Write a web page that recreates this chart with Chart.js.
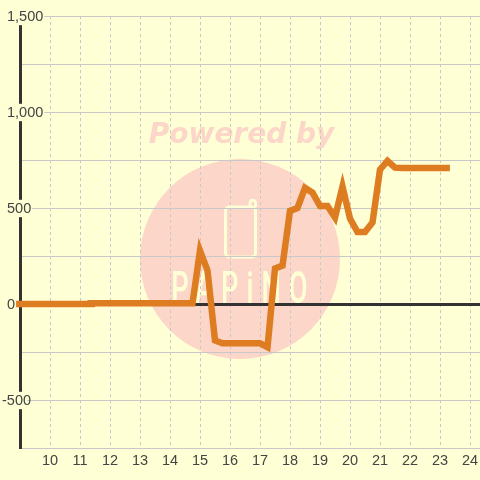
<!DOCTYPE html>
<html><head><meta charset="utf-8">
<style>html,body{margin:0;padding:0;background:#ffffd5}canvas{display:block}</style>
<script src="https://cdn.jsdelivr.net/npm/chart.js@4"></script></head>
<body><div style="width:480px;height:480px"><canvas id="c" width="480" height="480"></canvas></div>
<script>
const morningHours=[8.8,9,9.5,10,10.5,11,11.5];
const morningValues=[0,0,0,0,0,0,0];
const hours=[11.25,11.5,12,12.5,13,13.5,14,14.5,14.75,15,15.25,15.5,15.75,16,16.25,16.5,16.75,17,17.25,17.5,17.75,18,18.25,18.5,18.75,19,19.25,19.5,19.75,20,20.25,20.5,20.75,21,21.25,21.5,21.75,22,22.25,22.5,22.75,23,23.33];
const values=[4,4,4,4,4,4,4,4,4,278,175,-190,-205,-205,-205,-205,-205,-205,-225,185,200,485,500,605,580,510,510,450,612,445,375,375,425,700,745,710,708,708,708,708,708,708,708];
const xTicks=[10,11,12,13,14,15,16,17,18,19,20,21,22,23,24];
const yGrid=[-750,-500,-250,0,250,500,750,1000,1250,1500];
const yLabels=[-500,0,500,1000,1500];
const bg='#ffffd5',ink='#333333',tickInk='#444444',gridCol='#c8c8c8',orange='#de7c22',pink='#fcd6c8';
const watermark={id:'wm',beforeDraw(ch){
 const c=ch.ctx;c.save();
 c.fillStyle=bg;c.fillRect(0,0,480,480);
 c.fillStyle=pink;c.beginPath();c.arc(240,259,100,0,Math.PI*2);c.fill();
 c.font='italic bold 28px "DejaVu Sans"';c.textAlign='center';c.textBaseline='middle';
 c.fillText('Powered by',241.5,136);
 c.strokeStyle=bg;c.fillStyle=bg;c.lineWidth=3;
 c.beginPath();c.roundRect(225.5,207,30,50,4);c.stroke();
 c.beginPath();c.moveTo(250,207);c.lineTo(250,203);c.arc(252.75,203,2.75,Math.PI,0);c.lineTo(255.5,207);c.stroke();
 c.translate(243.5,292);c.scale(0.62,1);
 c.font='500 44px Roboto';c.letterSpacing='13px';c.textAlign='center';c.textBaseline='middle';
 c.fillText('PAPiNO',0,0);
 c.restore();
 const s=ch.scales.y;
 s.getLabelItems(ch.chartArea).forEach(it=>{
  it.options.translation[1]+=0.5;
  if(String(it.label).startsWith('-')){it.options.translation[0]-=5;if(it.options.backdrop)it.options.backdrop.left-=5;}
 });
}};
function noPad(s){s.paddingLeft=0;s.paddingRight=0;s.paddingTop=0;s.paddingBottom=0;}
new Chart(document.getElementById('c'),{
 type:'line',
 data:{datasets:[
  {data:morningHours.map((h,i)=>({x:h,y:morningValues[i]})),borderColor:orange,borderWidth:6.5,pointRadius:0,tension:0,borderCapStyle:'butt',borderJoinStyle:'miter',clip:false},
  {data:hours.map((h,i)=>({x:h,y:values[i]})),borderColor:orange,borderWidth:6.5,pointRadius:0,tension:0,borderCapStyle:'butt',borderJoinStyle:'miter',clip:false}
 ]},
 options:{responsive:false,animation:false,
  layout:{padding:{left:20,right:0,top:16,bottom:0}},
  plugins:{legend:{display:false},tooltip:{enabled:false}},
  scales:{
   x:{type:'linear',min:9,max:24.3333,afterBuildTicks(s){s.ticks=xTicks.map(v=>({value:v}))},afterFit(s){s.height=32;noPad(s)},
     grid:{color:gridCol,lineWidth:1,drawTicks:false},border:{dash:[3,3],display:false},
     ticks:{color:tickInk,font:{family:'"Liberation Sans"',size:14.5},padding:4,maxRotation:0,autoSkip:false}},
   y:{type:'linear',min:-750,max:1500,position:'left',afterFit(s){s.width=0;noPad(s)},
     afterBuildTicks(s){s.ticks=yGrid.map(v=>({value:v}))},
     grid:{color:c=>c.tick.value===0?ink:gridCol,lineWidth:c=>c.tick.value===0?3:1,drawTicks:false},border:{display:true,color:ink,width:3},
     ticks:{mirror:true,padding:-13,z:2,color:tickInk,font:{family:'"Liberation Sans"',size:14.5},showLabelBackdrop:c=>yLabels.includes(c.tick.value),backdropColor:bg,backdropPadding:{x:1,y:0},autoSkip:false,
       callback:v=>yLabels.includes(v)?v.toLocaleString('en-US'):''}}
  }},
 plugins:[watermark]
});
</script></body></html>
